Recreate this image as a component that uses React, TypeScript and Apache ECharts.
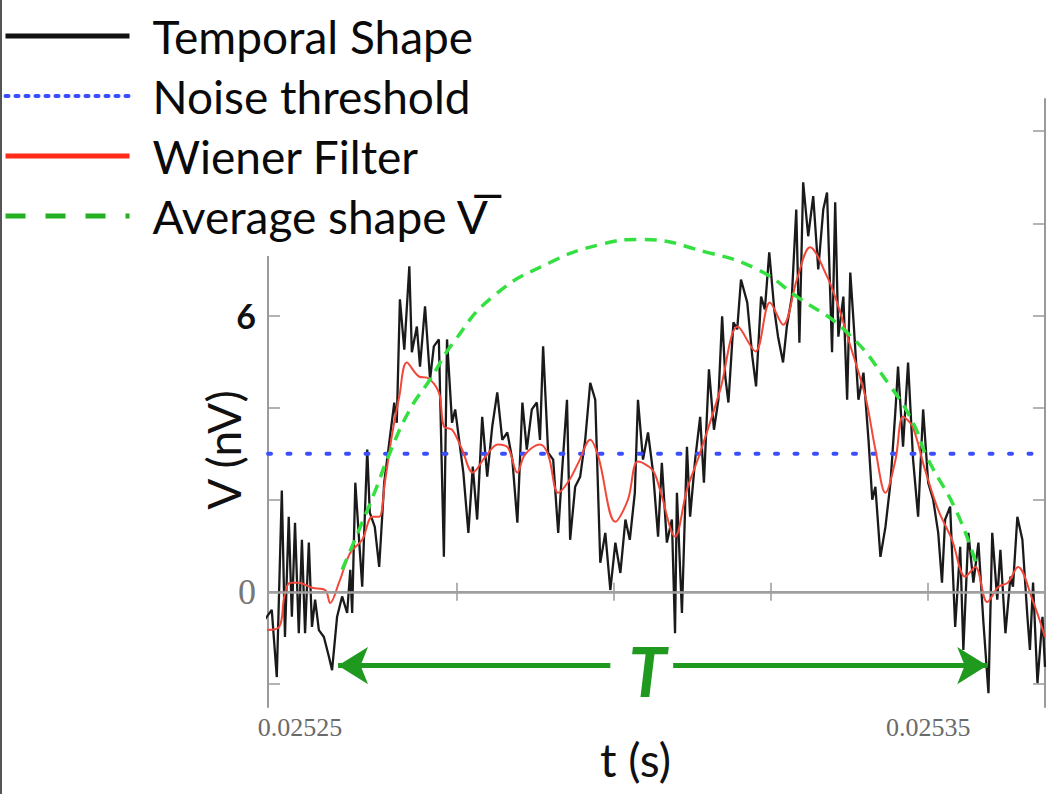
import React, { useEffect, useRef } from "react";
import * as echarts from "echarts";

// time in microseconds, values in nV
const tBlackUs = [25244.4, 25245.5, 25246.3, 25247.1, 25247.6, 25248.2, 25248.7, 25249.2, 25249.8, 25250.3, 25250.8, 25251.4, 25251.9, 25252.4, 25253.0, 25253.8, 25254.6, 25255.1, 25255.9, 25256.7, 25257.5, 25258.0, 25258.3, 25258.8, 25259.4, 25259.9, 25260.7, 25261.1, 25261.9, 25262.6, 25263.4, 25264.2, 25265.0, 25265.4, 25265.9, 25266.6, 25267.4, 25267.8, 25268.6, 25269.1, 25269.9, 25270.7, 25271.3, 25272.1, 25272.9, 25273.4, 25274.2, 25274.7, 25276.0, 25276.8, 25277.5, 25278.2, 25279.0, 25279.8, 25280.6, 25281.4, 25282.2, 25283.0, 25283.8, 25284.6, 25285.4, 25286.1, 25286.9, 25287.7, 25288.2, 25288.7, 25289.5, 25290.3, 25291.1, 25291.7, 25292.5, 25293.0, 25293.8, 25294.6, 25295.4, 25296.2, 25297.0, 25297.8, 25298.6, 25299.4, 25300.2, 25301.0, 25301.8, 25302.5, 25303.3, 25303.8, 25304.6, 25305.4, 25306.2, 25307.0, 25307.6, 25308.4, 25309.2, 25309.7, 25310.0, 25310.8, 25311.6, 25312.1, 25312.9, 25313.7, 25314.3, 25315.1, 25315.9, 25316.6, 25317.2, 25317.7, 25318.2, 25319.0, 25319.6, 25320.2, 25321.2, 25322.0, 25322.6, 25323.4, 25324.0, 25324.7, 25325.5, 25326.1, 25326.9, 25327.5, 25328.3, 25329.0, 25329.5, 25330.1, 25330.9, 25331.7, 25332.5, 25333.3, 25333.9, 25334.7, 25335.2, 25335.7, 25336.5, 25337.1, 25337.6, 25338.1, 25338.9, 25339.7, 25340.5, 25341.1, 25341.6, 25342.4, 25343.2, 25344.0, 25344.8, 25345.2, 25346.0, 25346.8, 25347.6, 25348.4, 25349.2, 25350.0, 25350.8, 25351.6, 25352.2, 25352.7, 25353.5, 25354.3, 25355.1, 25355.6, 25356.4, 25357.2, 25358.0, 25358.8, 25359.6, 25360.2, 25361.0, 25361.5, 25362.3, 25363.1, 25363.5, 25364.2, 25365.0, 25365.8, 25366.2, 25366.7, 25367.4, 25368.2, 25368.6];
const vBlack = [-0.6, -0.39, -1.85, 2.2, -0.98, 1.63, -0.54, 1.5, -0.9, 1.13, -0.9, 1.07, -0.76, -0.17, -0.83, -0.98, -1.41, -1.7, -0.54, -0.1, -0.46, 0.48, -0.46, 2.37, 1.13, 0.11, 3.09, 1.72, 1.41, 0.54, 2.37, 3.24, 4.11, 3.67, 6.35, 5.26, 7.07, 5.2, 5.76, 4.89, 6.2, 4.61, 5.33, 5.48, 0.76, 5.48, 3.67, 3.96, 2.59, 1.28, 2.72, 1.57, 3.8, 2.5, 3.59, 4.33, 3.3, 3.46, 2.87, 1.5, 4.11, 3.09, 3.96, 4.11, 3.3, 5.33, 3.02, 2.87, 1.28, 2.59, 4.17, 1.13, 2.28, 2.5, 3.3, 4.54, 4.17, 0.63, 1.28, 0.04, 1.07, 0.41, 1.57, 1.13, 2.15, 4.17, 2.87, 3.46, 2.6, 1.2, 2.8, 1.07, 1.57, -0.9, 2.15, -0.46, 3.15, 1.63, 2.87, 3.8, 2.37, 4.83, 3.52, 4.17, 5.98, 4.67, 4.11, 5.85, 5.7, 6.78, 6.28, 5.11, 4.46, 6.41, 6.13, 7.37, 6.13, 5.54, 4.98, 5.76, 6.41, 8.3, 5.41, 8.89, 7.72, 8.59, 7.0, 8.3, 8.67, 5.2, 8.46, 5.54, 6.41, 4.17, 6.93, 5.91, 4.17, 4.76, 3.3, 2.0, 2.28, 0.76, 1.41, 2.37, 3.96, 4.89, 3.15, 4.98, 2.87, 1.63, 3.96, 2.37, 2.0, 1.28, 0.2, 1.57, 1.85, -0.76, 0.98, -1.26, 1.28, 0.2, 1.07, -0.67, -2.2, 1.28, -0.17, 0.91, -0.9, 0.33, 0.11, 1.63, 1.13, -0.54, -1.26, 0.2, -1.98, -0.54, -1.63];

const tWienerUs = [25244.7, 25246.7, 25247.5, 25248.4, 25249.8, 25251.9, 25254.0, 25254.8, 25256.2, 25258.0, 25259.9, 25261.5, 25262.6, 25263.5, 25264.6, 25265.8, 25267.0, 25269.0, 25270.2, 25272.1, 25272.9, 25274.2, 25275.8, 25277.5, 25279.5, 25281.5, 25283.1, 25284.6, 25285.8, 25288.2, 25289.5, 25291.1, 25292.7, 25294.3, 25296.2, 25297.5, 25300.2, 25302.2, 25303.8, 25306.1, 25307.3, 25309.7, 25311.6, 25313.7, 25316.9, 25319.7, 25322.5, 25324.8, 25326.9, 25329.1, 25331.2, 25333.9, 25335.5, 25337.3, 25340.0, 25341.6, 25343.2, 25344.8, 25346.0, 25347.5, 25349.5, 25351.6, 25353.8, 25355.9, 25357.5, 25359.4, 25361.2, 25362.7, 25364.3, 25366.6, 25368.6];
const vWiener = [-0.83, -0.76, -0.1, 0.2, 0.2, 0.09, 0.04, -0.24, 0.2, 0.85, 1.13, 1.63, 1.63, 2.37, 3.37, 4.24, 4.98, 4.67, 4.65, 4.33, 3.59, 3.52, 3.09, 2.59, 2.93, 3.2, 3.13, 2.59, 2.98, 3.2, 2.98, 2.15, 2.39, 2.8, 3.3, 2.93, 1.52, 2.0, 2.83, 2.65, 2.22, 1.2, 2.22, 3.02, 4.39, 5.76, 5.22, 6.28, 5.8, 6.78, 7.48, 6.85, 6.28, 5.48, 4.24, 3.09, 2.15, 2.87, 3.8, 3.59, 2.65, 1.78, 1.13, 0.33, 0.54, -0.22, 0.11, 0.2, 0.54, -0.17, -0.98];

const tAverageUs = [25256.7, 25259.6, 25261.9, 25264.3, 25267.5, 25270.7, 25274.4, 25280.7, 25289.8, 25297.8, 25304.1, 25314.8, 25322.8, 25329.1, 25337.1, 25344.0, 25347.6, 25349.8, 25354.6, 25357.8];
const vAverage = [0.48, 1.41, 2.17, 3.02, 3.96, 4.61, 5.41, 6.41, 7.15, 7.54, 7.65, 7.37, 7.0, 6.41, 5.63, 4.46, 3.67, 2.93, 1.72, 0.54];

const noiseThreshold = 3;
const tRangeUs = [25244.9, 25368.6];
const vRange = [-2.5, 10.7];
const xTickUs = [25250, 25275, 25300, 25325, 25350];
const xLabelUs = [25250, 25350];
const yTicks = [-2, 0, 2, 4, 6, 8, 10];
const yLabels = [0, 6];
// duration T arrows (µs) and its level (nV)
const arrowLeftUs = [25256.05, 25299.4];
const arrowRightUs = [25309.4, 25359.4];
const arrowLevel = -1.6;
const tLabelPos = [25305.3, -1.7];

const S = (us: number) => us / 1e6;
const SANS = "Lato, 'Open Sans', sans-serif";
const SERIF = "'Liberation Serif', 'DejaVu Serif', serif";

export default function App() {
  const ref = useRef<HTMLDivElement>(null);
  useEffect(() => {
    if (!ref.current) return;
    const chart = echarts.init(ref.current, undefined, { renderer: "svg" });
    const xmin = S(tRangeUs[0]);
    const xmax = S(tRangeUs[1]);
    const near = (a: number, b: number) => Math.abs(a - b) < 1e-10;
    const greenArrow = "#1f9a1f";
    const avgName = "Average shape V\u0305";
    chart.setOption({
      animation: false,
      backgroundColor: "#ffffff",
      grid: { left: 268, right: 4, top: 99, bottom: 87, containLabel: false, outerBoundsMode: "none" },
      legend: {
        orient: "vertical",
        left: 3,
        top: 12,
        padding: 0,
        itemWidth: 124,
        itemHeight: 14,
        itemGap: 12,
        z: 200,
        selectedMode: false,
        itemStyle: { opacity: 0 },
        data: [
          { name: "Temporal Shape", lineStyle: { width: 5, color: "#111" } },
          { name: "Noise threshold", lineStyle: { width: 4, color: "#3a4dff", type: [3, 7] } },
          { name: "Wiener Filter", lineStyle: { width: 5, color: "#ff2a1a" } },
          { name: avgName, lineStyle: { width: 5, color: "#22b022", type: [20, 20] } },
        ],
        textStyle: { fontFamily: SANS, fontSize: 46, color: "#0a0a0a", lineHeight: 48, padding: [0, 0, 0, 18] },
      },
      xAxis: [
        {
          type: "value",
          min: xmin,
          max: xmax,
          name: "t (s)",
          nameLocation: "middle",
          nameGap: 28,
          nameMoveOverlap: false,
          nameTextStyle: { fontFamily: SANS, fontSize: 46, lineHeight: 48, color: "#111", padding: [0, 42, 0, 0] },
          axisLine: { show: true, lineStyle: { color: "#9a9a9a", width: 2 } },
          axisTick: { show: true, inside: true, length: 9, customValues: xTickUs.map(S), lineStyle: { color: "#9a9a9a", width: 1.5 } },
          axisLabel: {
            show: true,
            customValues: xLabelUs.map(S),
            formatter: (v: number) => (near(v, S(xLabelUs[0])) ? "0.02525" : near(v, S(xLabelUs[1])) ? "0.02535" : ""),
            fontFamily: SERIF,
            fontSize: 26,
            color: "#6a6a6a",
            margin: 7,
          },
          splitLine: { show: false },
        },
        {
          type: "value",
          position: "top",
          min: xmin,
          max: xmax,
          axisLine: { show: true, lineStyle: { color: "#9a9a9a", width: 2 } },
          axisTick: { show: true, inside: true, length: 9, customValues: xTickUs.map(S), lineStyle: { color: "#9a9a9a", width: 1.5 } },
          axisLabel: { show: false },
          splitLine: { show: false },
        },
      ],
      yAxis: [
        {
          type: "value",
          min: vRange[0],
          max: vRange[1],
          name: "V (nV)",
          nameLocation: "middle",
          nameGap: 22,
          nameMoveOverlap: false,
          nameTextStyle: { fontFamily: SANS, fontSize: 46, color: "#111", padding: [0, 94, 0, 0] },
          axisLine: { show: true, lineStyle: { color: "#9a9a9a", width: 2 } },
          axisTick: { show: true, inside: true, length: 12, customValues: yTicks, lineStyle: { color: "#9a9a9a", width: 1.5 } },
          axisLabel: {
            show: true,
            customValues: yLabels,
            margin: 12,
            formatter: (v: number) => (v === 6 ? "{a|6}" : v === 0 ? "{b|0}" : ""),
            rich: {
              a: { fontFamily: SANS, fontSize: 34, fontWeight: "bold", color: "#111" },
              b: { fontFamily: SERIF, fontSize: 36, color: "#777" },
            },
          },
          splitLine: { show: false },
        },
        {
          type: "value",
          position: "right",
          min: vRange[0],
          max: vRange[1],
          axisLine: { show: true, lineStyle: { color: "#9a9a9a", width: 2 } },
          axisTick: { show: true, inside: true, length: 12, customValues: yTicks, lineStyle: { color: "#9a9a9a", width: 1.5 } },
          axisLabel: { show: false },
          splitLine: { show: false },
        },
      ],
      graphic: [
        { type: "rect", z: 100, shape: { x: 0, y: 0, width: 516, height: 256 }, style: { fill: "#ffffff" } },
        { type: "line", z: 101, shape: { x1: 1, y1: 0, x2: 1, y2: 794 }, style: { stroke: "#555", lineWidth: 2 } },
      ],
      series: [
        {
          name: "Temporal Shape",
          type: "line",
          data: tBlackUs.map((t, i) => [S(t), vBlack[i]]),
          showSymbol: false,
          symbol: "none",
          lineStyle: { color: "#1a1a1a", width: 2.3 },
          itemStyle: { color: "#1a1a1a" },
          z: 2,
          markLine: {
            silent: true,
            symbol: ["none", "none"],
            label: { show: false },
            lineStyle: { color: "#a0a0a0", width: 2.5, type: "solid" },
            data: [{ yAxis: 0 }],
          },
        },
        {
          name: "Noise threshold",
          type: "line",
          data: [[xmin, noiseThreshold], [xmax, noiseThreshold]],
          showSymbol: false,
          symbol: "none",
          lineStyle: { color: "#3a4dff", width: 4, type: [3, 16.5], cap: "round" },
          itemStyle: { color: "#3a4dff" },
          z: 3,
        },
        {
          name: "Wiener Filter",
          type: "line",
          data: tWienerUs.map((t, i) => [S(t), vWiener[i]]),
          showSymbol: false,
          symbol: "none",
          smooth: 0.35,
          lineStyle: { color: "#f2483a", width: 2 },
          itemStyle: { color: "#f2483a" },
          z: 4,
        },
        {
          name: avgName,
          type: "line",
          data: tAverageUs.map((t, i) => [S(t), vAverage[i]]),
          showSymbol: false,
          symbol: "none",
          smooth: true,
          lineStyle: { color: "#33e040", width: 3.5, type: [12, 8] },
          itemStyle: { color: "#22b022" },
          z: 5,
          markLine: {
            silent: true,
            symbol: ["arrow", "none"],
            symbolSize: [28, 30],
            label: { show: false },
            lineStyle: { color: greenArrow, width: 5, type: "solid" },
            data: [
              [{ coord: [S(arrowLeftUs[0]), arrowLevel] }, { coord: [S(arrowLeftUs[1]), arrowLevel] }],
              [{ coord: [S(arrowRightUs[1]), arrowLevel] }, { coord: [S(arrowRightUs[0]), arrowLevel] }],
            ],
          },
          markPoint: {
            silent: true,
            symbol: "circle",
            symbolSize: 0,
            label: {
              show: true,
              formatter: "T",
              fontFamily: SANS,
              fontSize: 68,
              fontWeight: "bold",
              fontStyle: "italic",
              color: greenArrow,
              position: "inside",
            },
            data: [{ coord: [S(tLabelPos[0]), tLabelPos[1]] }],
          },
        },
      ],
    });
    return () => chart.dispose();
  }, []);
  return <div ref={ref} style={{ position: "fixed", left: 0, top: 0, width: 1049, height: 794 }} />;
}
